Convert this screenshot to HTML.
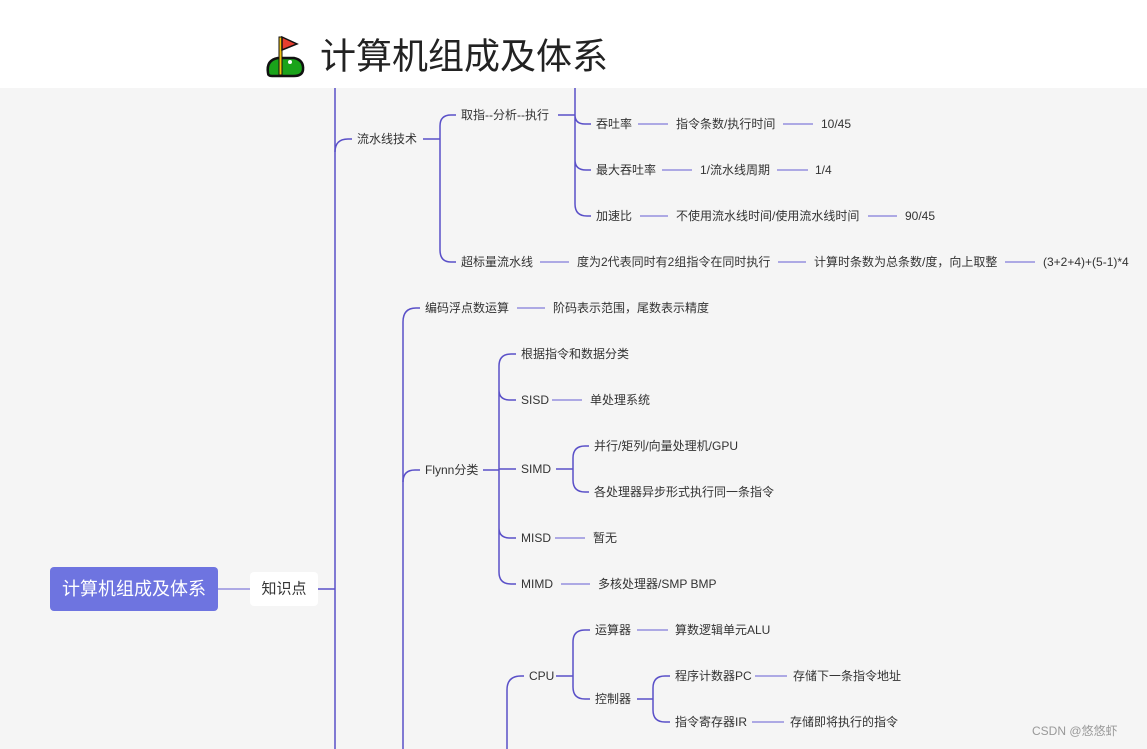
<!DOCTYPE html>
<html><head><meta charset="utf-8"><style>
body{margin:0;width:1147px;height:749px;overflow:hidden;background:#f5f5f5;font-family:"Liberation Sans","Noto Sans CJK SC",sans-serif}
svg{position:absolute;left:0;top:0}
text{font-family:"Liberation Sans","Noto Sans CJK SC",sans-serif;font-size:12px;fill:#333;dominant-baseline:central}
</style></head><body>
<svg width="1147" height="749" viewBox="0 0 1147 749">
<rect x="0" y="0" width="1147" height="88" fill="#fff"/>
<g>
<path d="M268 73 Q266 60 278 58 L294 58 Q304 60 303 70 Q302 76 294 76 L272 76 Q268 76 268 73Z" fill="#1aa31a" stroke="#111" stroke-width="2.5"/>
<rect x="279" y="37" width="3" height="38" fill="#f4c20d" stroke="#111" stroke-width="1"/>
<path d="M282 37 L297 44 L282 50Z" fill="#e53e2f" stroke="#111" stroke-width="1.5"/>
<circle cx="290" cy="62" r="2" fill="#fff"/>
</g>
<text x="320" y="56" style="font-size:36px;fill:#222">计算机组成及体系</text>

<g fill="none" stroke="#5a50c8" stroke-width="1.5">
<path d="M335 88 V749"/>
<path d="M318 589 H335"/>
<path d="M335 152 Q335 139 348 139 H352"/>
<path d="M403 749 V322 Q403 308 416 308 H420"/>
<path d="M423 139 H440 M440 126 Q440 115 451 115 H456 M440 126 V250 Q440 262 451 262 H456"/>
<path d="M558 115 H575 M575 88 V204 Q575 216 587 216 H591 M575 115 Q575 124 585 124 H591 M575 160 Q575 170 586 170 H591"/>
<path d="M403 482 Q403 470 415 470 H420"/>
<path d="M483 470 H499 M499 366 Q499 354 511 354 H516 M499 366 V572 Q499 584 511 584 H516 M499 390 Q499 400 510 400 H516 M499 528 Q499 538 510 538 H516 M499 469 H516"/>
<path d="M556 469 H573 M573 458 Q573 446 585 446 H589 M573 458 V480 Q573 492 585 492 H589"/>
<path d="M507 749 V690 Q507 676 521 676 H524"/>
<path d="M556 676 H573 M573 642 Q573 630 585 630 H590 M573 642 V687 Q573 699 585 699 H590"/>
<path d="M637 699 H653 M653 688 Q653 676 665 676 H670 M653 688 V710 Q653 722 665 722 H670"/>
</g>
<g stroke="#9590de" stroke-width="1.5" fill="none">
<path d="M218 589 H250"/>
<path d="M638 124 H668 M783 124 H813"/>
<path d="M662 170 H692 M777 170 H808"/>
<path d="M640 216 H668 M868 216 H897"/>
<path d="M540 262 H569 M778 262 H806 M1005 262 H1035"/>
<path d="M517 308 H545"/>
<path d="M552 400 H582"/>
<path d="M555 538 H585"/>
<path d="M561 584 H590"/>
<path d="M637 630 H668"/>
<path d="M755 676 H787"/>
<path d="M752 722 H784"/>
</g>

<rect x="50" y="567" width="168" height="44" rx="4" fill="#6e74e0"/>
<text x="134" y="589" text-anchor="middle" style="font-size:18px;fill:#fff">计算机组成及体系</text>
<rect x="250" y="572" width="68" height="34" rx="4" fill="#fff"/>
<text x="284" y="589" text-anchor="middle" style="font-size:15px">知识点</text>

<text x="357" y="139">流水线技术</text>
<text x="461" y="115">取指--分析--执行</text>
<text x="596" y="124">吞吐率</text><text x="676" y="124">指令条数/执行时间</text><text x="821" y="124">10/45</text>
<text x="596" y="170">最大吞吐率</text><text x="700" y="170">1/流水线周期</text><text x="815" y="170">1/4</text>
<text x="596" y="216">加速比</text><text x="676" y="216">不使用流水线时间/使用流水线时间</text><text x="905" y="216">90/45</text>
<text x="461" y="262">超标量流水线</text><text x="577" y="262">度为2代表同时有2组指令在同时执行</text><text x="814" y="262">计算时条数为总条数/度，向上取整</text><text x="1043" y="262">(3+2+4)+(5-1)*4</text>
<text x="425" y="308">编码浮点数运算</text><text x="553" y="308">阶码表示范围，尾数表示精度</text>
<text x="425" y="470">Flynn分类</text>
<text x="521" y="354">根据指令和数据分类</text>
<text x="521" y="400">SISD</text><text x="590" y="400">单处理系统</text>
<text x="521" y="469">SIMD</text>
<text x="594" y="446">并行/矩列/向量处理机/GPU</text>
<text x="594" y="492">各处理器异步形式执行同一条指令</text>
<text x="521" y="538">MISD</text><text x="593" y="538">暂无</text>
<text x="521" y="584">MIMD</text><text x="598" y="584">多核处理器/SMP BMP</text>
<text x="529" y="676">CPU</text>
<text x="595" y="630">运算器</text><text x="675" y="630">算数逻辑单元ALU</text>
<text x="595" y="699">控制器</text>
<text x="675" y="676">程序计数器PC</text><text x="793" y="676">存储下一条指令地址</text>
<text x="675" y="722">指令寄存器IR</text><text x="790" y="722">存储即将执行的指令</text>
<text x="1032" y="731" style="fill:#999;font-size:12px">CSDN @悠悠虾</text>
</svg>
</body></html>
